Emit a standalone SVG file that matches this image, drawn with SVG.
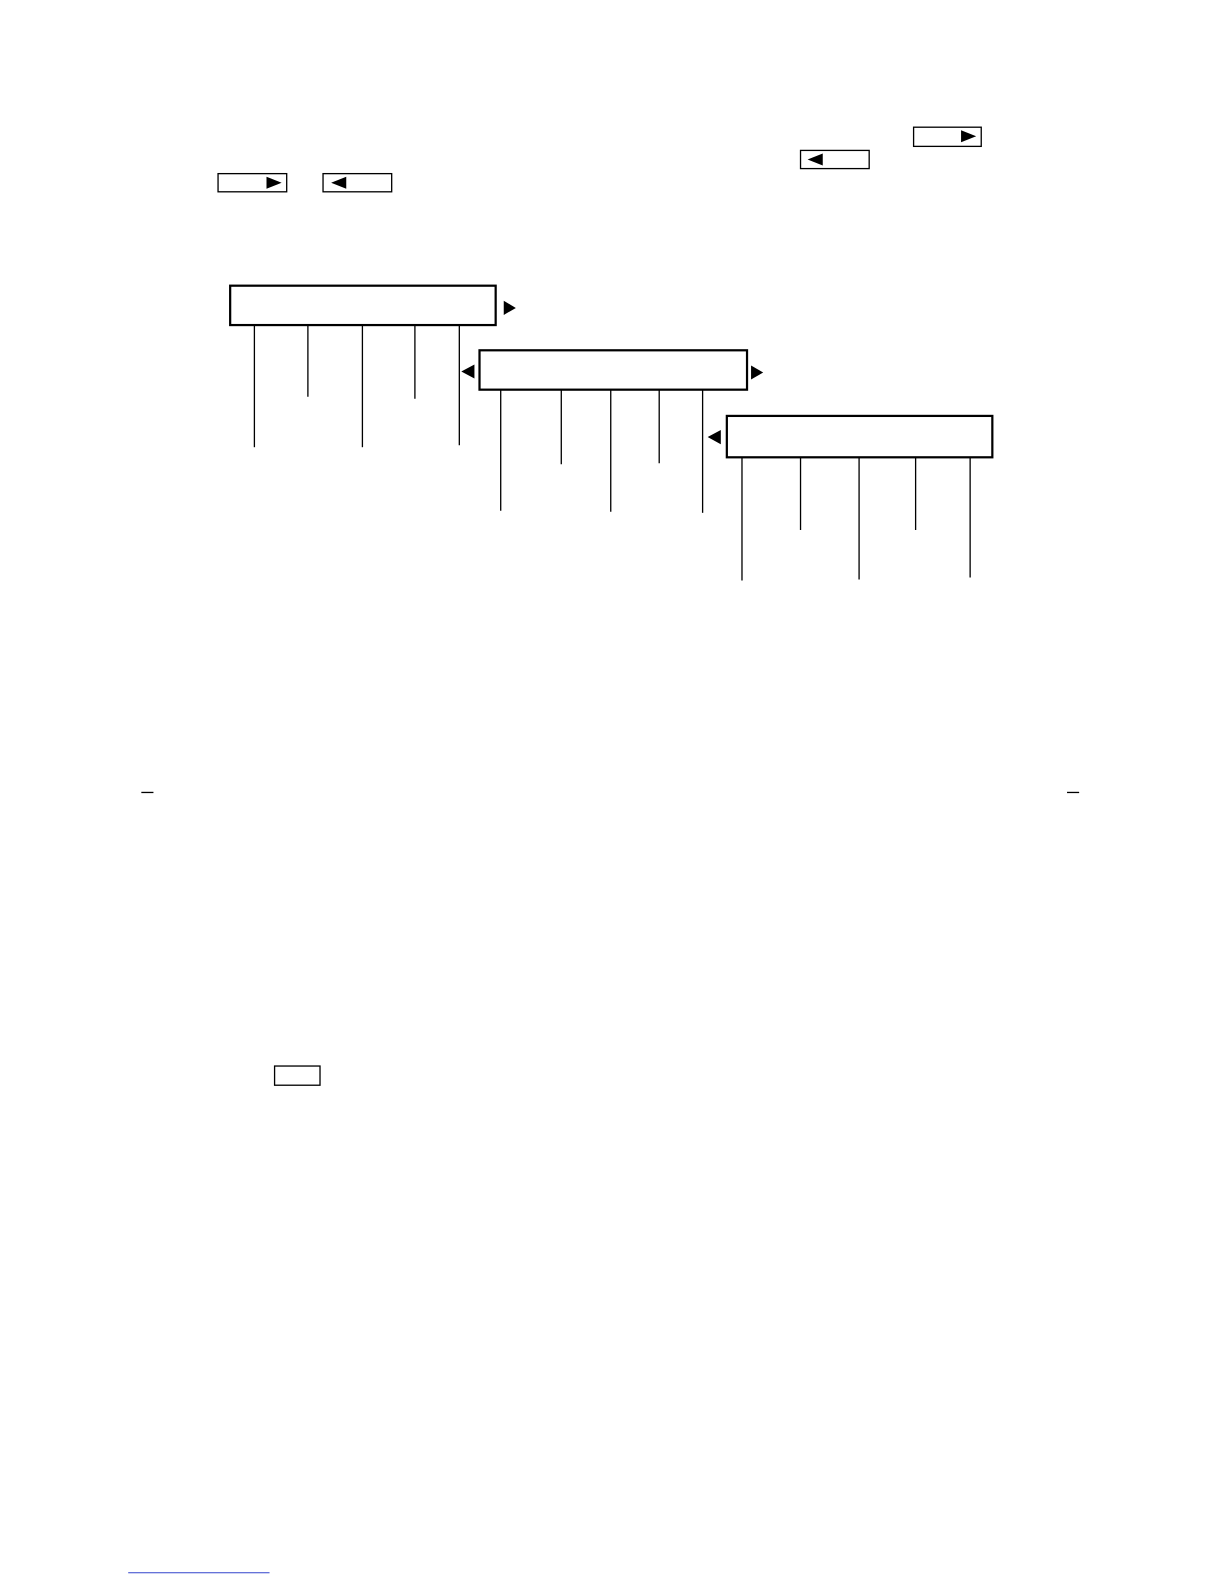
<svg xmlns="http://www.w3.org/2000/svg" width="1224" height="1584" viewBox="0 0 1224 1584">
<style>
.sb{fill:#fff;stroke:#000;stroke-width:1.3}
.mb{fill:#fff;stroke:#000;stroke-width:2.2}
.tri{fill:#000}
.ln{stroke:#000;stroke-width:1.3;fill:none}
</style>
<rect width="1224" height="1584" fill="#fff"/>
<g transform="scale(1.0095)">
<g id="key-right-1"><rect class="sb" x="905" y="126" width="67" height="19"/><polygon class="tri" points="952,129 967,135 952,141"/></g>
<g id="key-left-1"><rect class="sb" x="793" y="149" width="68" height="18"/><polygon class="tri" points="815,152 800,158 815,164"/></g>
<g id="key-right-2"><rect class="sb" x="216" y="172" width="68" height="18"/><polygon class="tri" points="264,175 279,181 264,187"/></g>
<g id="key-left-2"><rect class="sb" x="320" y="172" width="68" height="18"/><polygon class="tri" points="343,175 328,181 343,187"/></g>
<g id="box1"><rect class="mb" x="228" y="283" width="263" height="39"/></g>
<g id="box2"><rect class="mb" x="475" y="347" width="265" height="39"/></g>
<g id="box3"><rect class="mb" x="720" y="412" width="263" height="41"/></g>
<g id="arrows">
<polygon class="tri" points="499,298 511,305 499,312"/>
<polygon class="tri" points="470,361 457,368 470,375"/>
<polygon class="tri" points="744,362 756,369 744,376"/>
<polygon class="tri" points="714,426 701,433 714,440"/>
</g>
<g id="connectors">
<line class="ln" x1="252" y1="322" x2="252" y2="443"/>
<line class="ln" x1="305" y1="322" x2="305" y2="393"/>
<line class="ln" x1="359" y1="322" x2="359" y2="443"/>
<line class="ln" x1="411" y1="322" x2="411" y2="395"/>
<line class="ln" x1="455" y1="322" x2="455" y2="441"/>
<line class="ln" x1="496" y1="386" x2="496" y2="506"/>
<line class="ln" x1="556" y1="386" x2="556" y2="460"/>
<line class="ln" x1="605" y1="386" x2="605" y2="507"/>
<line class="ln" x1="653" y1="386" x2="653" y2="459"/>
<line class="ln" x1="696" y1="386" x2="696" y2="508"/>
<line class="ln" x1="735" y1="453" x2="735" y2="575"/>
<line class="ln" x1="793" y1="453" x2="793" y2="525"/>
<line class="ln" x1="851" y1="453" x2="851" y2="574"/>
<line class="ln" x1="907" y1="453" x2="907" y2="525"/>
<line class="ln" x1="961" y1="453" x2="961" y2="572"/>
</g>
<g id="marks">
<line class="ln" x1="140" y1="785" x2="152" y2="785"/>
<line class="ln" x1="1057" y1="785" x2="1069" y2="785"/>
</g>
<g id="small-box"><rect class="sb" x="272" y="1056" width="45" height="19"/></g>
<g id="link"><line x1="127" y1="1558" x2="267" y2="1558" stroke="#3344cc" stroke-width="1"/></g>
</g>
</svg>
